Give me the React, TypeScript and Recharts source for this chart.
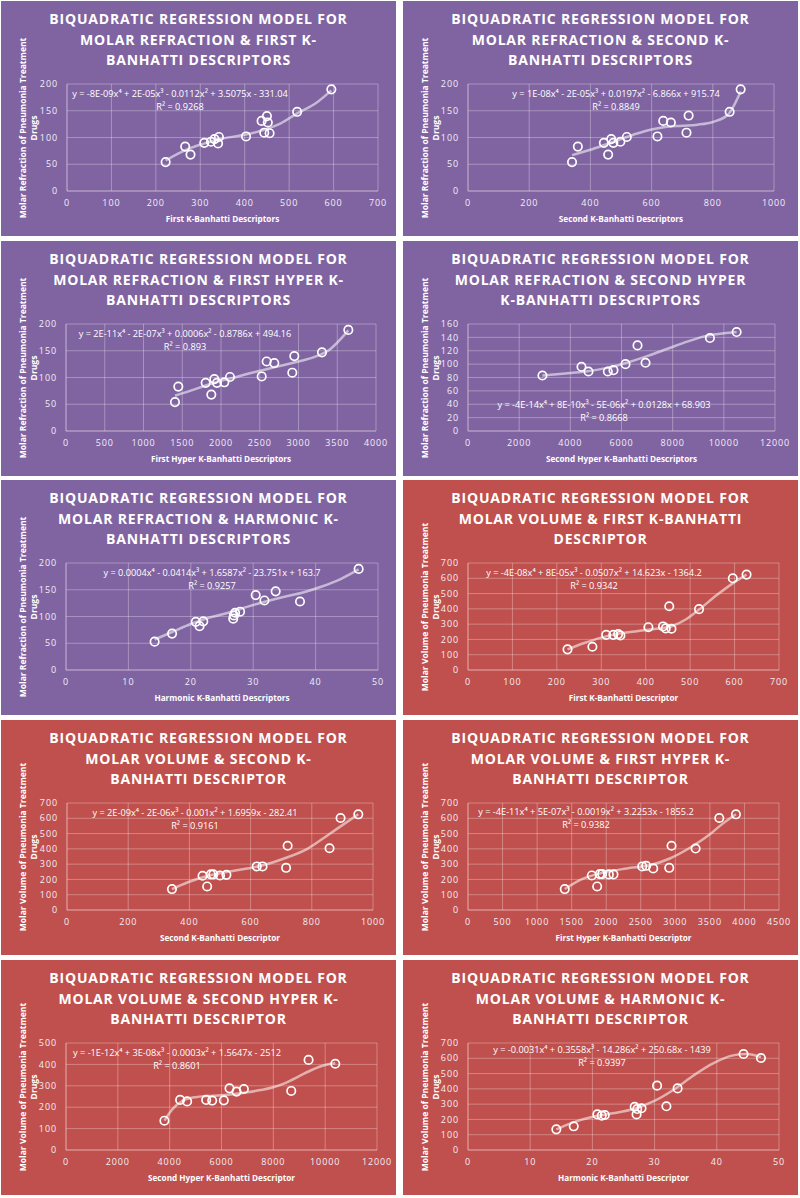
import { ComposedChart, Scatter, Line, XAxis, YAxis, CartesianGrid } from "recharts"

type Pt = [number, number]

// ---- molar refraction panels ----
const mrFirstKPoints: Pt[] = [
  [222, 54], [266, 83], [278, 68], [309, 90], [324, 92], [332, 97], [340, 89], [342, 101],
  [403, 102], [438, 131], [444, 109], [450, 140], [452, 128], [456, 108], [518, 148], [595, 190],
]
const mrFirstKTrend: Pt[] = [
  [222, 57], [250, 70], [280, 81], [310, 89], [350, 98], [400, 105], [450, 116], [480, 126],
  [520, 146], [560, 164], [595, 188],
]

const mrSecondKPoints: Pt[] = [
  [340, 54], [359, 83], [444, 90], [458, 68], [468, 97], [475, 90], [498, 92], [519, 101],
  [619, 102], [638, 131], [663, 128], [714, 109], [721, 141], [855, 148], [891, 190],
]
const mrSecondKTrend: Pt[] = [
  [340, 67], [400, 77], [450, 87], [500, 97], [550, 107], [600, 115], [650, 120], [700, 122],
  [750, 124], [800, 129], [850, 143], [891, 186],
]

const mrFirstHyperPoints: Pt[] = [
  [1406, 54], [1449, 83], [1802, 90], [1875, 68], [1914, 97], [1948, 90], [2043, 91], [2116, 101],
  [2525, 102], [2589, 130], [2688, 127], [2920, 109], [2946, 140], [3303, 147], [3643, 189],
]
const mrFirstHyperTrend: Pt[] = [
  [1406, 66], [1600, 75], [1800, 85], [2000, 94], [2200, 101], [2400, 109], [2600, 116],
  [2800, 123], [3000, 130], [3200, 138], [3400, 152], [3643, 188],
]

const mrSecondHyperPoints: Pt[] = [
  [2909, 83], [4435, 96], [4709, 89], [5465, 89], [5687, 91], [6157, 100], [6626, 128],
  [6939, 102], [9457, 139], [10500, 148],
]
const mrSecondHyperTrend: Pt[] = [
  [2909, 83], [3800, 86], [4600, 89], [5400, 94], [6200, 102], [7000, 112], [7800, 123],
  [8600, 134], [9400, 143], [10000, 146], [10500, 148],
]

const mrHarmonicPoints: Pt[] = [
  [14.2, 53], [17.0, 68], [20.8, 90], [21.4, 82], [22.0, 91], [26.8, 96], [26.9, 102], [27.1, 107],
  [27.9, 109], [30.4, 140], [31.8, 130], [33.6, 147], [37.5, 128], [46.9, 189],
]
const mrHarmonicTrend: Pt[] = [
  [14.2, 57], [17, 71], [20, 86], [23, 98], [26, 107], [29, 118], [32, 128], [35, 137],
  [38, 145], [41, 156], [44, 170], [46.9, 188],
]

// ---- molar volume panels ----
const mvFirstKPoints: Pt[] = [
  [224, 135], [280, 152], [311, 230], [327, 230], [338, 235], [343, 226], [406, 280], [439, 285],
  [445, 272], [453, 417], [458, 270], [520, 398], [596, 600], [627, 624],
]
const mvFirstKTrend: Pt[] = [
  [224, 135], [260, 175], [300, 212], [340, 238], [380, 254], [420, 268], [460, 288], [490, 330],
  [520, 395], [560, 490], [600, 575], [627, 624],
]

const mvSecondKPoints: Pt[] = [
  [343, 137], [443, 224], [458, 154], [470, 233], [478, 233], [500, 226], [521, 230], [620, 285],
  [639, 285], [716, 276], [721, 420], [858, 404], [894, 602], [952, 626],
]
const mvSecondKTrend: Pt[] = [
  [343, 137], [393, 180], [459, 222], [546, 257], [634, 289], [710, 337], [787, 402], [852, 489],
  [907, 565], [952, 626],
]

const mvFirstHyperPoints: Pt[] = [
  [1400, 137], [1791, 226], [1869, 154], [1907, 235], [1941, 235], [2038, 233], [2105, 233],
  [2521, 285], [2578, 289], [2680, 272], [2912, 276], [2945, 420], [3293, 402], [3636, 602],
  [3877, 626],
]
const mvFirstHyperTrend: Pt[] = [
  [1400, 137], [1618, 196], [1907, 239], [2294, 272], [2632, 293], [2921, 337], [3211, 407],
  [3500, 495], [3650, 552], [3877, 626],
]

const mvSecondHyperPoints: Pt[] = [
  [3798, 137], [4403, 234], [4674, 227], [5408, 234], [5640, 231], [6090, 232], [6309, 288],
  [6579, 273], [6863, 285], [8691, 276], [9360, 421], [10390, 403],
]
const mvSecondHyperTrend: Pt[] = [
  [3798, 137], [4100, 190], [4500, 230], [5000, 247], [5500, 252], [6000, 256], [6500, 262],
  [7000, 270], [7500, 280], [8000, 293], [8500, 315], [9000, 345], [9500, 375], [10000, 397],
  [10390, 405],
]

const mvHarmonicPoints: Pt[] = [
  [14.2, 135], [17.0, 155], [20.8, 233], [21.5, 225], [22.0, 229], [26.8, 283], [27.1, 233],
  [27.2, 268], [27.9, 273], [30.4, 421], [31.9, 286], [33.7, 403], [44.3, 628], [47.1, 602],
]
const mvHarmonicTrend: Pt[] = [
  [14.2, 135], [16.9, 181], [20.1, 218], [23.3, 240], [26.6, 268], [29.8, 318], [33, 393],
  [36.2, 486], [39.4, 567], [42.6, 619], [44.8, 628], [47.1, 608],
]

// ---- ticks ----
const ticksFirstK = [0, 100, 200, 300, 400, 500, 600, 700]
const ticksSecondK = [0, 200, 400, 600, 800, 1000]
const ticksFirstHyperMR = [0, 500, 1000, 1500, 2000, 2500, 3000, 3500, 4000]
const ticksFirstHyperMV = [0, 500, 1000, 1500, 2000, 2500, 3000, 3500, 4000, 4500]
const ticksSecondHyper = [0, 2000, 4000, 6000, 8000, 10000, 12000]
const ticksHarmonic = [0, 10, 20, 30, 40, 50]
const ticksRefraction = [0, 50, 100, 150, 200]
const ticksRefraction160 = [0, 20, 40, 60, 80, 100, 120, 140, 160]
const ticksVolume = [0, 100, 200, 300, 400, 500, 600, 700]
const ticksVolume500 = [0, 100, 200, 300, 400, 500]

const HEAD = "BIQUADRATIC REGRESSION MODEL FOR"
const MR_LABEL = ["Molar Refraction of Pneumonia Treatment", "Drugs"]
const MV_LABEL = ["Molar Volume of Pneumonia Treatment", "Drugs"]

const PURPLE = "#8064a2"
const RED = "#c0504d"
const W = 395
const H = 235

interface PanelCfg {
  title: string[]
  xLabel: string
  yLabel: string[]
  eq: string[]
  points: Pt[]
  trend: Pt[]
  xTicks: number[]
  yTicks: number[]
  bg: string
  plotLeft: number
  plotRight: number
  eqX: number
  eqY: number
  left: number
  top: number
}

const COLS = [1, 403]
const ROWS = [1, 241, 480, 720, 960]

const panels: PanelCfg[] = [
  {
    title: [HEAD, "MOLAR REFRACTION & FIRST K-", "BANHATTI DESCRIPTORS"],
    xLabel: "First K-Banhatti Descriptors", yLabel: MR_LABEL,
    eq: ["y = -8E-09x⁴ + 2E-05x³ - 0.0112x² + 3.5075x - 331.04", "R² = 0.9268"],
    points: mrFirstKPoints, trend: mrFirstKTrend, xTicks: ticksFirstK, yTicks: ticksRefraction,
    bg: PURPLE, plotLeft: 66, plotRight: 377, eqX: 179, eqY: 93, left: COLS[0], top: ROWS[0],
  },
  {
    title: [HEAD, "MOLAR REFRACTION & SECOND K-", "BANHATTI DESCRIPTORS"],
    xLabel: "Second K-Banhatti Descriptors", yLabel: MR_LABEL,
    eq: ["y = 1E-08x⁴ - 2E-05x³ + 0.0197x² - 6.866x + 915.74", "R² = 0.8849"],
    points: mrSecondKPoints, trend: mrSecondKTrend, xTicks: ticksSecondK, yTicks: ticksRefraction,
    bg: PURPLE, plotLeft: 65, plotRight: 371, eqX: 213, eqY: 93, left: COLS[1], top: ROWS[0],
  },
  {
    title: [HEAD, "MOLAR REFRACTION & FIRST HYPER K-", "BANHATTI DESCRIPTORS"],
    xLabel: "First Hyper K-Banhatti Descriptors", yLabel: MR_LABEL,
    eq: ["y = 2E-11x⁴ - 2E-07x³ + 0.0006x² - 0.8786x + 494.16", "R² = 0.893"],
    points: mrFirstHyperPoints, trend: mrFirstHyperTrend, xTicks: ticksFirstHyperMR, yTicks: ticksRefraction,
    bg: PURPLE, plotLeft: 65, plotRight: 375, eqX: 184, eqY: 93, left: COLS[0], top: ROWS[1],
  },
  {
    title: [HEAD, "MOLAR REFRACTION & SECOND HYPER", "K-BANHATTI DESCRIPTORS"],
    xLabel: "Second Hyper K-Banhatti Descriptors", yLabel: MR_LABEL,
    eq: ["y = -4E-14x⁴ + 8E-10x³ - 5E-06x² + 0.0128x + 68.903", "R² = 0.8668"],
    points: mrSecondHyperPoints, trend: mrSecondHyperTrend, xTicks: ticksSecondHyper, yTicks: ticksRefraction160,
    bg: PURPLE, plotLeft: 65, plotRight: 372, eqX: 201, eqY: 164, left: COLS[1], top: ROWS[1],
  },
  {
    title: [HEAD, "MOLAR REFRACTION & HARMONIC K-", "BANHATTI DESCRIPTORS"],
    xLabel: "Harmonic K-Banhatti Descriptors", yLabel: MR_LABEL,
    eq: ["y = 0.0004x⁴ - 0.0414x³ + 1.6587x² - 23.751x + 163.7", "R² = 0.9257"],
    points: mrHarmonicPoints, trend: mrHarmonicTrend, xTicks: ticksHarmonic, yTicks: ticksRefraction,
    bg: PURPLE, plotLeft: 65, plotRight: 377, eqX: 211, eqY: 93, left: COLS[0], top: ROWS[2],
  },
  {
    title: [HEAD, "MOLAR VOLUME & FIRST K-BANHATTI", "DESCRIPTOR"],
    xLabel: "First K-Banhatti Descriptor", yLabel: MV_LABEL,
    eq: ["y = -4E-08x⁴ + 8E-05x³ - 0.0507x² + 14.623x - 1364.2", "R² = 0.9342"],
    points: mvFirstKPoints, trend: mvFirstKTrend, xTicks: ticksFirstK, yTicks: ticksVolume,
    bg: RED, plotLeft: 65, plotRight: 376, eqX: 191, eqY: 93, left: COLS[1], top: ROWS[2],
  },
  {
    title: [HEAD, "MOLAR VOLUME & SECOND K-", "BANHATTI DESCRIPTOR"],
    xLabel: "Second K-Banhatti Descriptor", yLabel: MV_LABEL,
    eq: ["y = 2E-09x⁴ - 2E-06x³ - 0.001x² + 1.6959x - 282.41", "R² = 0.9161"],
    points: mvSecondKPoints, trend: mvSecondKTrend, xTicks: ticksSecondK, yTicks: ticksVolume,
    bg: RED, plotLeft: 66, plotRight: 372, eqX: 194, eqY: 93, left: COLS[0], top: ROWS[3],
  },
  {
    title: [HEAD, "MOLAR VOLUME & FIRST HYPER K-", "BANHATTI DESCRIPTOR"],
    xLabel: "First Hyper K-Banhatti Descriptor", yLabel: MV_LABEL,
    eq: ["y = -4E-11x⁴ + 5E-07x³ - 0.0019x² + 3.2253x - 1855.2", "R² = 0.9382"],
    points: mvFirstHyperPoints, trend: mvFirstHyperTrend, xTicks: ticksFirstHyperMV, yTicks: ticksVolume,
    bg: RED, plotLeft: 65, plotRight: 376, eqX: 183, eqY: 92, left: COLS[1], top: ROWS[3],
  },
  {
    title: [HEAD, "MOLAR VOLUME & SECOND HYPER K-", "BANHATTI DESCRIPTOR"],
    xLabel: "Second Hyper K-Banhatti Descriptor", yLabel: MV_LABEL,
    eq: ["y = -1E-12x⁴ + 3E-08x³ - 0.0003x² + 1.5647x - 2512", "R² = 0.8601"],
    points: mvSecondHyperPoints, trend: mvSecondHyperTrend, xTicks: ticksSecondHyper, yTicks: ticksVolume500,
    bg: RED, plotLeft: 65, plotRight: 376, eqX: 176, eqY: 93, left: COLS[0], top: ROWS[4],
  },
  {
    title: [HEAD, "MOLAR VOLUME & HARMONIC K-", "BANHATTI DESCRIPTOR"],
    xLabel: "Harmonic K-Banhatti Descriptor", yLabel: MV_LABEL,
    eq: ["y = -0.0031x⁴ + 0.3558x³ - 14.286x² + 250.68x - 1439", "R² = 0.9397"],
    points: mvHarmonicPoints, trend: mvHarmonicTrend, xTicks: ticksHarmonic, yTicks: ticksVolume,
    bg: RED, plotLeft: 65, plotRight: 376, eqX: 199, eqY: 90, left: COLS[1], top: ROWS[4],
  },
]

const PLOT_TOP = 83
const PLOT_BOTTOM = 190
const GRID = "rgba(255,255,255,0.3)"
const TICK = { fill: "#f2eef6", fontSize: 9, letterSpacing: 0.9, fontFamily: "'Open Sans', sans-serif" }

const Ring = (p: any) => (
  <circle cx={p.cx} cy={p.cy} r={4.2} fill="none" stroke="#ffffff" strokeWidth={1.7} />
)

function Panel({ cfg }: { cfg: PanelCfg }) {
  const pts = cfg.points.map(([x, y]) => ({ x, y }))
  const trend = cfg.trend.map(([x, y]) => ({ x, y }))
  const xMax = cfg.xTicks[cfg.xTicks.length - 1]
  const yMax = cfg.yTicks[cfg.yTicks.length - 1]
  const plotCenter = (cfg.plotLeft + cfg.plotRight) / 2
  return (
    <div
      style={{
        position: "absolute",
        left: cfg.left,
        top: cfg.top,
        width: W,
        height: H,
        background: cfg.bg,
        color: "#fff",
        fontFamily: "'Open Sans', sans-serif",
        overflow: "hidden",
      }}
    >
      <div
        style={{
          position: "absolute",
          top: 8,
          left: 0,
          width: W,
          textAlign: "center",
          fontWeight: 700,
          fontSize: 14,
          lineHeight: "20.5px",
          letterSpacing: 0.8,
        }}
      >
        {cfg.title.map((t) => (
          <div key={t}>{t}</div>
        ))}
      </div>
      <div style={{ position: "absolute", left: 0, top: 0 }}>
        <ComposedChart
          width={W}
          height={H}
          margin={{ top: PLOT_TOP, right: W - cfg.plotRight, left: 0, bottom: 0 }}
        >
          <CartesianGrid stroke={GRID} strokeWidth={1} />
          <XAxis
            type="number"
            dataKey="x"
            domain={[0, xMax]}
            ticks={cfg.xTicks}
            height={H - PLOT_BOTTOM}
            tickLine={false}
            tickSize={0}
            tickMargin={9}
            axisLine={{ stroke: GRID }}
            tick={TICK}
            interval={0}
          />
          <YAxis
            type="number"
            dataKey="y"
            domain={[0, yMax]}
            ticks={cfg.yTicks}
            width={cfg.plotLeft}
            tickLine={false}
            tickSize={0}
            tickMargin={9}
            axisLine={{ stroke: GRID }}
            tick={TICK}
            interval={0}
          />
          <Line
            data={trend}
            dataKey="y"
            type="monotone"
            dot={false}
            stroke="rgba(255,255,255,0.55)"
            strokeWidth={2.5}
            isAnimationActive={false}
          />
          <Scatter data={pts} dataKey="y" shape={Ring} isAnimationActive={false} />
        </ComposedChart>
      </div>
      <div
        style={{
          position: "absolute",
          left: cfg.eqX,
          top: cfg.eqY - 7,
          transform: "translateX(-50%)",
          fontSize: 9.2,
          lineHeight: "13px",
          textAlign: "center",
          whiteSpace: "nowrap",
        }}
      >
        {cfg.eq.map((t) => (
          <div key={t}>{t}</div>
        ))}
      </div>
      <div
        style={{
          position: "absolute",
          left: plotCenter - 150,
          width: 300,
          top: 212,
          textAlign: "center",
          fontSize: 8.2,
          fontWeight: 700,
          lineHeight: "12px",
          whiteSpace: "nowrap",
        }}
      >
        {cfg.xLabel}
      </div>
      <div
        style={{
          position: "absolute",
          left: 27 - 110,
          top: 127 - 11,
          width: 220,
          height: 22,
          transform: "rotate(-90deg)",
          transformOrigin: "50% 50%",
          textAlign: "center",
          fontSize: 8.5,
          fontWeight: 700,
          lineHeight: "11px",
          whiteSpace: "nowrap",
        }}
      >
        {cfg.yLabel.map((t) => (
          <div key={t}>{t}</div>
        ))}
      </div>
    </div>
  )
}

export default function App() {
  return (
    <div
      style={{
        position: "absolute",
        left: 0,
        top: 0,
        width: 800,
        height: 1198,
        background: "#ffffff",
      }}
    >
      {panels.map((p, i) => (
        <Panel key={i} cfg={p} />
      ))}
    </div>
  )
}
